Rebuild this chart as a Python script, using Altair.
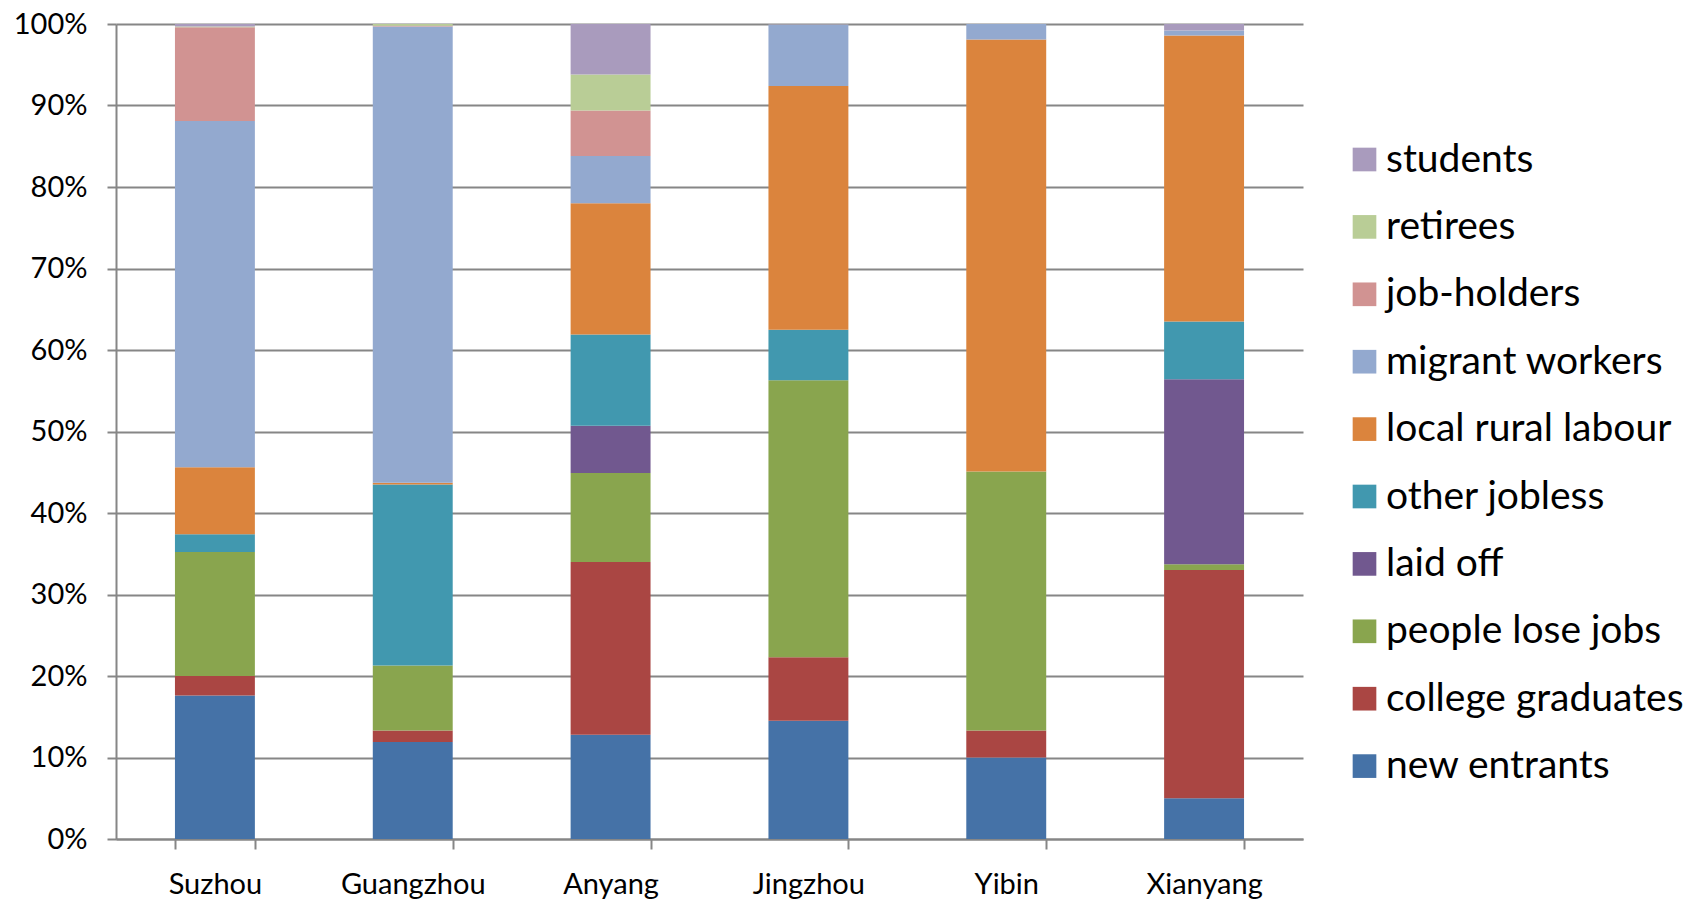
import altair as alt
import pandas as pd

cities = ["Suzhou", "Guangzhou", "Anyang", "Jingzhou", "Yibin", "Xianyang"]
groups = ["new entrants", "college graduates", "people lose jobs", "laid off",
          "other jobless", "local rural labour", "migrant workers", "job-holders",
          "retirees", "students"]
colors = ["#4572A7", "#AA4643", "#89A54E", "#71588F", "#4198AF",
          "#DB843D", "#93A9CF", "#D19392", "#B9CD96", "#A99BBD"]

# percent shares per city (Suzhou, Guangzhou, Anyang, Jingzhou, Yibin, Xianyang)
new_entrants = [17.6, 11.9, 12.8, 14.5, 10.0, 5.0]
college_graduates = [2.4, 1.4, 21.2, 7.8, 3.3, 28.0]
people_lose_jobs = [15.2, 8.0, 10.9, 34.0, 31.8, 0.7]
laid_off = [0.0, 0.0, 5.8, 0.0, 0.0, 22.7]
other_jobless = [2.2, 22.2, 11.2, 6.2, 0.0, 7.1]
local_rural_labour = [8.2, 0.2, 16.1, 29.9, 53.0, 35.1]
migrant_workers = [42.5, 56.0, 5.8, 7.5, 1.9, 0.6]
job_holders = [11.5, 0.1, 5.6, 0.0, 0.0, 0.0]
retirees = [0.1, 0.2, 4.4, 0.04, 0.0, 0.0]
students = [0.3, 0.0, 6.2, 0.06, 0.0, 0.8]

series = [new_entrants, college_graduates, people_lose_jobs, laid_off, other_jobless,
          local_rural_labour, migrant_workers, job_holders, retirees, students]

rows = []
for gi, (g, vals) in enumerate(zip(groups, series)):
    for c, v in zip(cities, vals):
        rows.append({"city": c, "group": g, "value": v, "idx": gi})
df = pd.DataFrame(rows)

GRAY = "#868686"
FONT = "Lato"

chart = alt.Chart(df).mark_bar().encode(
    x=alt.X("city:N", sort=cities, title=None,
            scale=alt.Scale(paddingInner=0.596, paddingOuter=0.298),
            axis=alt.Axis(labelAngle=0, tickBand="extent", domainColor=GRAY, domainWidth=2,
                          tickColor=GRAY, tickWidth=2, tickSize=10, labelFont=FONT,
                          labelFontSize=29, labelColor="black", labelPadding=44,
                          labelBaseline="alphabetic", grid=False)),
    y=alt.Y("value:Q", stack="normalize", title=None, scale=alt.Scale(domain=[0, 1]),
            axis=alt.Axis(format=".0%", values=[i / 10 for i in range(11)], domainColor=GRAY,
                          domainWidth=2, tickColor=GRAY, tickWidth=2, tickSize=9,
                          gridColor=GRAY, gridWidth=2, grid=True, labelFont=FONT,
                          labelFontSize=29, labelColor="black", labelPadding=20)),
    color=alt.Color("group:N",
                    scale=alt.Scale(domain=groups[::-1], range=colors[::-1]),
                    legend=alt.Legend(orient="none", legendX=1229, legendY=116, title=None,
                                      symbolType="square", symbolSize=560, symbolStrokeWidth=0,
                                      labelFont=FONT, labelFontSize=39, labelColor="black",
                                      rowPadding=27.4, labelOffset=2, padding=0, labelLimit=500)),
    order=alt.Order("idx:Q", sort="ascending"),
).properties(
    width=1187, height=815,
    padding={"left": 108, "top": 16, "right": 384, "bottom": 60},
    autosize=alt.AutoSizeParams(type="none"),
).configure_view(strokeWidth=0)

chart.save("out.html", embed_options={"renderer": "svg", "actions": False})
